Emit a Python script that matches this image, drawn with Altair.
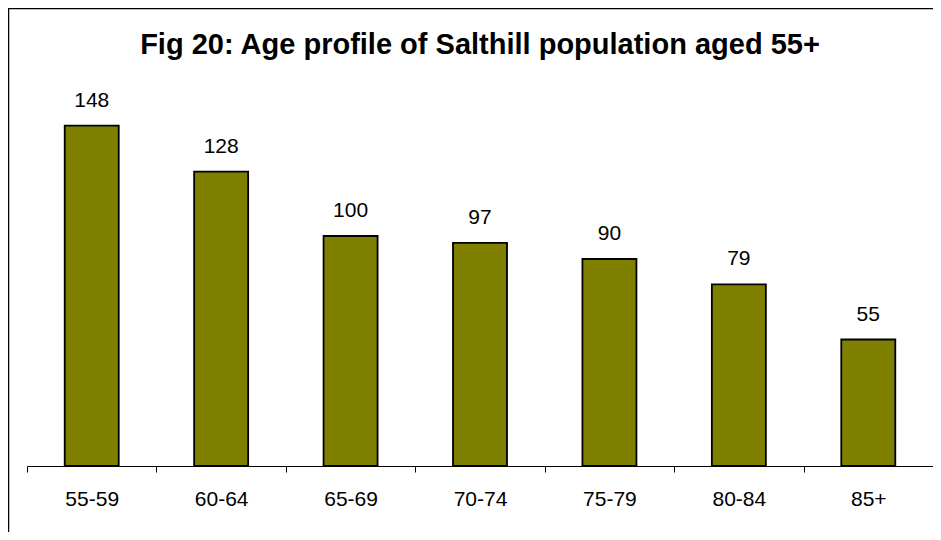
import altair as alt
import pandas as pd

categories = ["55-59", "60-64", "65-69", "70-74", "75-79", "80-84", "85+"]
values = [148, 128, 100, 97, 90, 79, 55]
title_text = "Fig 20: Age profile of Salthill population aged 55+"

df = pd.DataFrame({"age": categories, "count": values})
FONT = "Liberation Sans"

x_enc = alt.X(
    "age:N",
    sort=categories,
    scale=alt.Scale(paddingInner=0, paddingOuter=0),
    axis=alt.Axis(
        title=None,
        labelAngle=0,
        tickBand="extent",
        tickSize=6,
        tickColor="#000000",
        domainColor="#000000",
        domainWidth=1,
        tickWidth=1,
        labelFont=FONT,
        labelFontSize=21,
        labelColor="#000000",
        labelPadding=16,
        grid=False,
    ),
)
y_enc = alt.Y("count:Q", scale=alt.Scale(domain=[0, 160]), axis=None)

bars = alt.Chart(df).mark_bar(
    size=54, color="#808000", stroke="#000000", strokeWidth=1.8
).encode(x=x_enc, y=y_enc)

labels = alt.Chart(df).mark_text(
    dy=-19, baseline="alphabetic", fontSize=21, font=FONT, color="#000000"
).encode(x=x_enc, y=y_enc, text="count:Q")

frame = alt.Chart(pd.DataFrame({"f": [0]})).mark_rect(
    fill="transparent", stroke="#000000", strokeWidth=2.5
).encode(
    x=alt.value(-19), x2=alt.value(1100), y=alt.value(-90), y2=alt.value(700)
)

chart = alt.layer(frame, bars, labels).properties(
    width=906,
    height=368,
    title=alt.TitleParams(
        text=title_text,
        font=FONT,
        fontSize=29,
        fontWeight="bold",
        color="#000000",
        anchor="middle",
        offset=-53,
    ),
    autosize=alt.AutoSizeParams(type="none"),
    padding={"left": 19, "top": 90, "right": 0, "bottom": 66},
).configure_view(stroke=None)

chart.save("out.html", embed_options={"renderer": "svg", "actions": False})
